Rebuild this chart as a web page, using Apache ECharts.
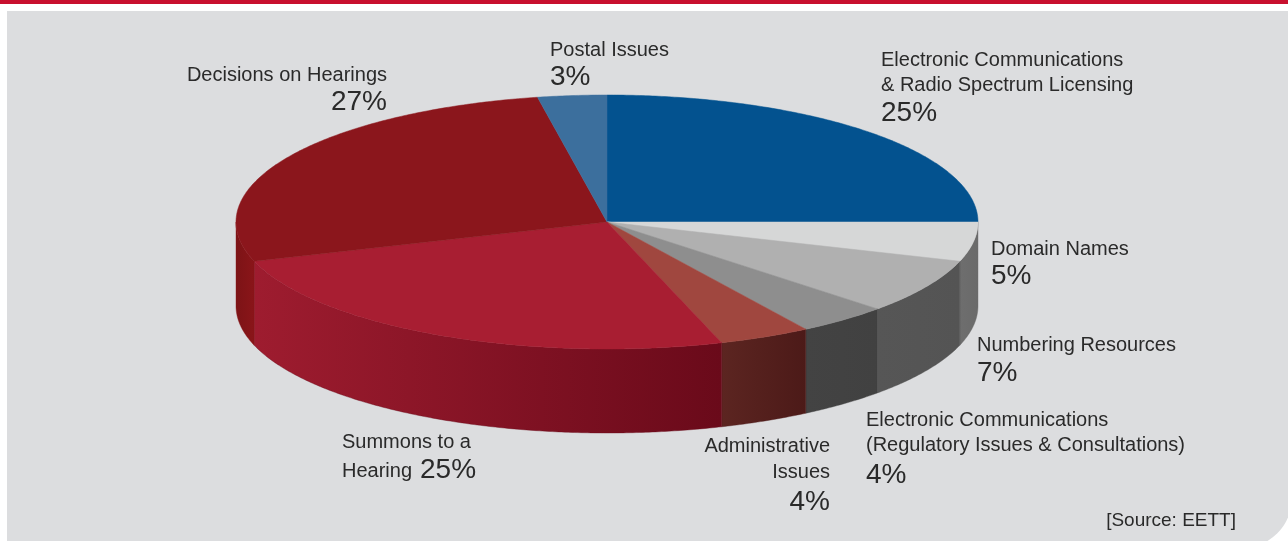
<!DOCTYPE html>
<html>
<head>
<meta charset="utf-8">
<script src="https://cdn.jsdelivr.net/npm/echarts@6/dist/echarts.min.js"></script>
<style>
  html, body { margin: 0; padding: 0; background: #ffffff; }
  #chart { width: 1288px; height: 541px; }
</style>
</head>
<body>
<div id="chart"></div>
<script>
// Slices, clockwise from twelve o'clock
const categories = [
  'Electronic Communications & Radio Spectrum Licensing',
  'Domain Names',
  'Numbering Resources',
  'Electronic Communications (Regulatory Issues & Consultations)',
  'Administrative Issues',
  'Summons to a Hearing',
  'Decisions on Hearings',
  'Postal Issues'
];
const shares = [25, 5, 7, 4, 4, 25, 27, 3];

// Label text, one entry per slice (line breaks as drawn)
const labelLines = [
  ['Electronic Communications', '& Radio Spectrum Licensing'],
  ['Domain Names'],
  ['Numbering Resources'],
  ['Electronic Communications', '(Regulatory Issues & Consultations)'],
  ['Administrative', 'Issues'],
  ['Summons to a', 'Hearing'],
  ['Decisions on Hearings'],
  ['Postal Issues']
];
const sourceNote = '[Source: EETT]';

// ---- styling ----
const topColors  = ['#03528f', '#d6d7d7', '#b0b0b0', '#8e8e8e', '#a0473f', '#a81e32', '#8b161c', '#3c6f9d'];
const sideLeft   = ['#02406f', '#6e6e6e', '#565656', '#434343', '#5c2521', '#9e1c2f', '#7c1316', '#2c5680'];
const sideRight  = ['#02406f', '#6a6a6a', '#545454', '#414141', '#4c1a18', '#6a0a1a', '#8a1519', '#2c5680'];

// ---- pie geometry (pixels) ----
const PIE = { cx: 607, cy: 222, rx: 371, ry: 127, depth: 84 };

// label anchors: cap-top of first line, line spacing, gap before percentage
const labelLayout = [
  { x: 881, y: 53,  align: 'left',  step: 25, gap: 25 },
  { x: 991, y: 242, align: 'left',  step: 25, gap: 24 },
  { x: 977, y: 338, align: 'left',  step: 25, gap: 25 },
  { x: 866, y: 413, align: 'left',  step: 25, gap: 27 },
  { x: 830, y: 439, align: 'right', step: 26, gap: 27 },
  { x: 342, y: 435, align: 'left',  step: 29, inline: 78, inlineDy: -4 },
  { x: 387, y: 68,  align: 'right', step: 25, gap: 24 },
  { x: 550, y: 43,  align: 'left',  step: 25, gap: 24 }
];

const NAME_FS = 20, PCT_FS = 28;
const FONT = '"Liberation Sans", Arial, sans-serif';
const TEXT_COLOR = '#2a2a2a';

const total = shares.reduce((s, v) => s + v, 0);
const cumulative = [0];
shares.forEach(v => cumulative.push(cumulative[cumulative.length - 1] + v));

function pt(t, dy) {
  return [PIE.cx + PIE.rx * Math.sin(t), PIE.cy - PIE.ry * Math.cos(t) + (dy || 0)];
}
function arc(a0, a1, dy) {
  const n = Math.max(2, Math.ceil((a1 - a0) / (Math.PI / 360)));
  const out = [];
  for (let k = 0; k <= n; k++) out.push(pt(a0 + (a1 - a0) * k / n, dy));
  return out;
}

function renderItem(params, api) {
  const i = params.dataIndex;
  const value = api.value(0);
  const a0 = cumulative[i] / total * Math.PI * 2;
  const a1 = a0 + value / total * Math.PI * 2;
  const children = [];

  // front wall: only the part facing the viewer (90°..270° clockwise from top)
  const s0 = Math.max(a0, Math.PI / 2), s1 = Math.min(a1, Math.PI * 1.5);
  if (s1 > s0) {
    const upper = arc(s0, s1, 0);
    const lower = arc(s0, s1, PIE.depth).reverse();
    const xs = upper.map(p => p[0]);
    const xMin = Math.min.apply(null, xs), xMax = Math.max.apply(null, xs);
    children.push({
      type: 'polygon',
      shape: { points: upper.concat(lower) },
      style: {
        fill: new echarts.graphic.LinearGradient(0, 0, 1, 0, [
          { offset: 0, color: sideLeft[i] },
          { offset: 1, color: sideRight[i] }
        ]),
        stroke: sideRight[i], lineWidth: 0.4
      }
    });
    void xMin; void xMax;
  }

  // top face
  children.push({
    type: 'polygon',
    shape: { points: [[PIE.cx, PIE.cy]].concat(arc(a0, a1, 0)) },
    style: { fill: topColors[i], stroke: topColors[i], lineWidth: 0.5 }
  });
  return { type: 'group', children: children };
}

// ---- labels as graphic text ----
function capMid(capTop, fs) { return capTop + 0.37 * fs; }

const labelGraphics = [];
labelLines.forEach((lines, i) => {
  const L = labelLayout[i];
  lines.forEach((line, j) => {
    labelGraphics.push({
      type: 'text', z: 10,
      style: {
        text: line, x: L.x, y: capMid(L.y + j * L.step, NAME_FS),
        font: NAME_FS + 'px ' + FONT, fill: TEXT_COLOR,
        textAlign: L.align, textVerticalAlign: 'middle'
      }
    });
  });
  const pct = shares[i] + '%';
  let px, py;
  if (L.inline) {
    px = L.x + L.inline;
    py = L.y + (lines.length - 1) * L.step + L.inlineDy;
  } else {
    px = L.x;
    py = L.y + (lines.length - 1) * L.step + L.gap;
  }
  labelGraphics.push({
    type: 'text', z: 10,
    style: {
      text: pct, x: px, y: capMid(py, PCT_FS),
      font: PCT_FS + 'px ' + FONT, fill: TEXT_COLOR,
      textAlign: L.inline ? 'left' : L.align, textVerticalAlign: 'middle'
    }
  });
});
labelGraphics.push({
  type: 'text', z: 10,
  style: {
    text: sourceNote, x: 1236, y: capMid(514, 19),
    font: '19px ' + FONT, fill: TEXT_COLOR,
    textAlign: 'right', textVerticalAlign: 'middle'
  }
});

const chart = echarts.init(document.getElementById('chart'), null, { renderer: 'canvas' });
chart.setOption({
  backgroundColor: '#ffffff',
  animation: false,
  graphic: [
    { type: 'rect', z: -10, shape: { x: 0, y: 0, width: 1288, height: 4 }, style: { fill: '#c8102e' } },
    { type: 'rect', z: -10, shape: { x: 7, y: 11, width: 1285, height: 537, r: [0, 0, 50, 0] }, style: { fill: '#dcdddf' } }
  ].concat(labelGraphics),
  series: [{
    type: 'custom',
    coordinateSystem: 'none',
    silent: true,
    renderItem: renderItem,
    data: shares.map((v, i) => ({ name: categories[i], value: [v] }))
  }]
});
</script>
</body>
</html>
